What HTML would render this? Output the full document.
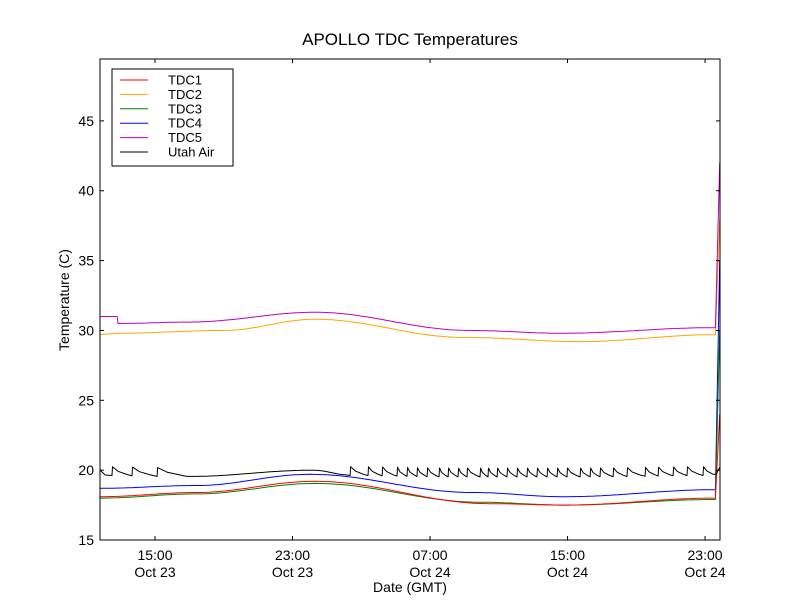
<!DOCTYPE html>
<html><head><meta charset="utf-8"><style>
body{margin:0;background:#fff;}
svg{display:block;font-family:"Liberation Sans","DejaVu Sans",sans-serif;}
</style></head><body>
<svg id="chart" width="800" height="600"></svg>
<script>
// time in hours from Oct 23 00:00 GMT
const xTickHours = [15, 23, 31, 39, 47];
const xTickTop = ["15:00","23:00","07:00","15:00","23:00"];
const xTickBottom = ["Oct 23","Oct 23","Oct 24","Oct 24","Oct 24"];
const yTicks = [15,20,25,30,35,40,45];
const seriesNames = ["TDC1","TDC2","TDC3","TDC4","TDC5","Utah Air"];
const tdc1T = [11.8,17.4,24.3,34.5,38.8,47.6,47.85];
const tdc1V = [18.1,18.4,19.2,17.6,17.5,18.0,24];
const tdc2T = [11.8,12.8,19,24.3,33,39.7,47.6,47.85];
const tdc2V = [29.7,29.8,30.0,30.8,29.5,29.2,29.7,38];
const tdc3T = [11.8,17.4,24.3,34,38.8,47.6,47.85];
const tdc3V = [18.0,18.3,19.05,17.7,17.5,17.9,30];
const tdc4T = [11.8,17.4,24,33.5,38.8,47.6,47.85];
const tdc4V = [18.7,18.9,19.7,18.4,18.1,18.6,35];
const tdc5T = [11.8,12.8,12.85,17,24.3,33.3,38.6,47.6,47.85];
const tdc5V = [31.0,31.0,30.5,30.6,31.3,30.0,29.8,30.2,42];
const airBaseT = [11.8,17,24.2,26.3,32,40,47.6];
const airBaseV = [19.65,19.55,20.0,19.65,19.55,19.55,19.65];
const airPeaks = [12.5,13.66,15.12,26.35,27.39,28.21,29.08,29.66,30.24,30.83,31.52,32.05,32.63,33.15,33.91,34.37,34.9,35.48,36.06,36.64,37.22,37.81,38.39,38.97,39.73,40.31,40.89,41.65,42.46,43.51,44.27,45.14,45.95,46.88];
const airEnd = [47.65,19.7,47.85,20.2];

const L=100,R=720,T=59,B=540, X0=11.8,X1=47.87, Y0=15,Y1=49.43;
const xs=h=>L+(h-X0)/(X1-X0)*(R-L);
const ys=v=>B-(v-Y0)/(Y1-Y0)*(B-T);
const NS="http://www.w3.org/2000/svg";
const svg=document.getElementById('chart');
function el(tag,attrs,parent){const e=document.createElementNS(NS,tag);for(const k in attrs)e.setAttribute(k,attrs[k]);(parent||svg).appendChild(e);return e;}
function interp(ts,vs,h){for(let i=0;i<ts.length-1;i++){if(h<=ts[i+1]){const f=(h-ts[i])/(ts[i+1]-ts[i]);const g=(ts[i+1]-ts[i])>1?(1-Math.cos(Math.PI*f))/2:f;return vs[i]+g*(vs[i+1]-vs[i]);}}return vs[vs.length-1];}
function smooth(ts,vs){const ot=[],ov=[];for(let i=0;i<ts.length-1;i++){const dt=ts[i+1]-ts[i];const n=dt>1?Math.ceil(dt/0.25):1;for(let k=0;k<n;k++){const h=ts[i]+dt*k/n;ot.push(h);ov.push(interp(ts,vs,h));}}ot.push(ts[ts.length-1]);ov.push(vs[vs.length-1]);return [ot,ov];}

const t=el('text',{x:410,y:45,'text-anchor':'middle','font-size':'17'});t.textContent="APOLLO TDC Temperatures";



const clip=el('clipPath',{id:'pc'});el('rect',{x:L,y:T,width:R-L,height:B-T},clip);
const plot=el('g',{'clip-path':'url(#pc)'});



function drawLine(ts,vs,color,name){
  const d=ts.map((h,i)=>(i?'L':'M')+xs(h).toFixed(1)+','+ys(vs[i]).toFixed(1)).join('');
  const p=el('path',{d:d,fill:'none',stroke:color,'stroke-width':1,'stroke-linejoin':'round'},plot);
  
  
}
function drawSmooth(ts,vs,color,name){const s=smooth(ts,vs);drawLine(s[0],s[1],color,name);}
drawSmooth(tdc2T,tdc2V,'#ffa500','series-tdc2');
drawSmooth(tdc5T,tdc5V,'#bf00bf','series-tdc5');
drawSmooth(tdc4T,tdc4V,'#0000ff','series-tdc4');
drawSmooth(tdc3T,tdc3V,'#008000','series-tdc3');
drawSmooth(tdc1T,tdc1V,'#ff0000','series-tdc1');
// Utah Air sawtooth
(function(){
  const at=[],av=[];
  const base=h=>interp(airBaseT,airBaseV,h);
  const push=h=>{at.push(h);av.push(base(h));};
  at.push(X0);av.push(base(X0)+0.35);
  push(X0+0.3);
  for(let i=0;i<airPeaks.length;i++){
    const p=airPeaks[i];
    at.push(p);av.push(base(p)-0.03);
    at.push(p+0.03);av.push(base(p)+0.6);
    const nx=i<airPeaks.length-1?airPeaks[i+1]:airEnd[0];
    const gap=nx-p;
    const d1=Math.min(gap*0.3,0.6);
    at.push(p+d1);av.push(base(p+d1)+0.28);
    const d2=Math.min(gap*0.75,1.5);
    at.push(p+d2);av.push(base(p+d2)+0.06);
    if(gap>2){for(let h=p+d2+0.25;h<nx-0.1;h+=0.25)push(h);}
  }
  at.push(airEnd[0]);av.push(airEnd[1]);at.push(airEnd[2]);av.push(airEnd[3]);
  drawLine(at,av,'#000000','series-utah-air');
})();

el('rect',{x:L,y:T,width:R-L,height:B-T,fill:'none',stroke:'#000','stroke-width':1});
xTickHours.forEach((h,i)=>{
  const x=xs(h);
  el('line',{x1:x,x2:x,y1:B,y2:B-4,stroke:'#000'});el('line',{x1:x,x2:x,y1:T,y2:T+4,stroke:'#000'});
  const a=el('text',{x:x,y:B+20,'text-anchor':'middle','font-size':'14'});a.textContent=xTickTop[i];
  
  
  const b=el('text',{x:x,y:B+37,'text-anchor':'middle','font-size':'14'});b.textContent=xTickBottom[i];
  
  
});
yTicks.forEach(v=>{
  const y=ys(v);
  el('line',{x1:L,x2:L+4,y1:y,y2:y,stroke:'#000'});el('line',{x1:R,x2:R-4,y1:y,y2:y,stroke:'#000'});
  const a=el('text',{x:L-6,y:y+5,'text-anchor':'end','font-size':'14'});a.textContent=v;
  
  
});
const xl=el('text',{x:410,y:592,'text-anchor':'middle','font-size':'14'});xl.textContent="Date (GMT)";


const yl=el('text',{x:69,y:300,'text-anchor':'middle','font-size':'14',transform:'rotate(-90 69 300)'});yl.textContent="Temperature (C)";



const lg=el('g',{});


el('rect',{x:112,y:69,width:121,height:97,fill:'#fff',stroke:'#000'},lg);
const colors=['#ff0000','#ffa500','#008000','#0000ff','#bf00bf','#000000'];
seriesNames.forEach((n,i)=>{
  const y=80+i*14.4;
  const g=el('g',{},lg);
  
  
  el('line',{x1:120,x2:148,y1:y,y2:y,stroke:colors[i]},g);
  const tx=el('text',{x:168,y:y+4.5,'font-size':'13'},g);tx.textContent=n;
});
</script>
</body></html>
